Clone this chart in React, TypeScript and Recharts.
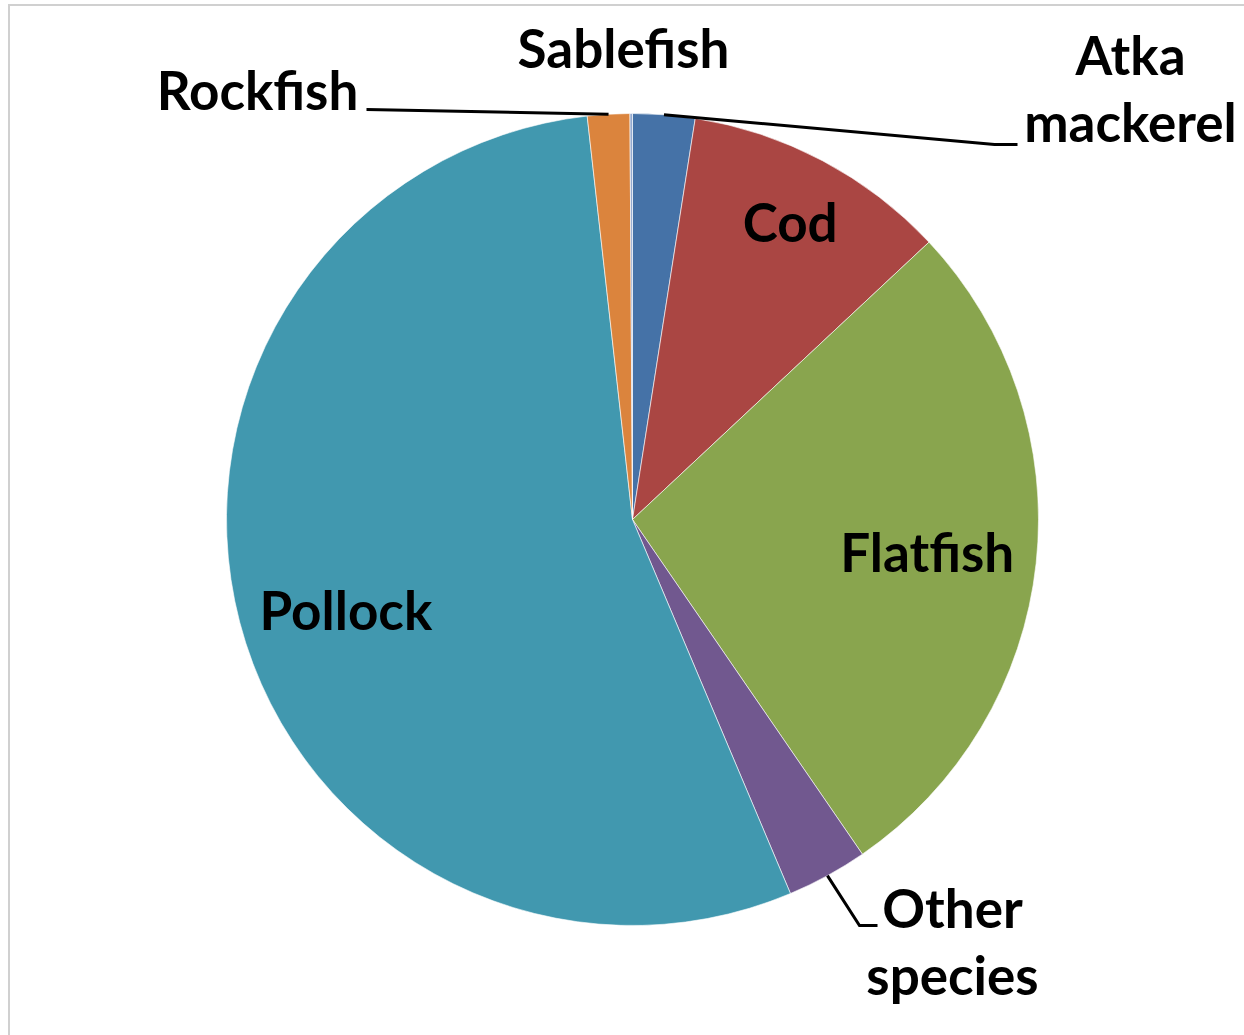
import { Cell, Pie, PieChart } from "recharts";

// Groundfish catch share by species (percent of total)
const species = [
  "Atka mackerel",
  "Cod",
  "Flatfish",
  "Other species",
  "Pollock",
  "Rockfish",
  "Sablefish",
];
const shares = [2.47, 10.56, 27.39, 3.22, 54.58, 1.68, 0.1];
const colors = [
  "#4572A7",
  "#AA4643",
  "#89A54E",
  "#71588F",
  "#4198AF",
  "#DB843D",
  "#93A9CF",
];

const data = species.map((name, i) => ({ name, value: shares[i] }));

const RAD = Math.PI / 180;
const FONT = "Lato, 'Open Sans', sans-serif";
const FONT_SIZE = 53;

// label placement, relative to the pie centre
type Place =
  | { inside: true; r: number; turn?: number }
  | {
      inside: false;
      lines: string[];
      x: number;
      y: number;
      lead?: [number, number][];
    };

const placement: Record<string, Place> = {
  Cod: { inside: true, r: 0.83 },
  Flatfish: { inside: true, r: 0.73 },
  Pollock: { inside: true, r: 0.74, turn: 2.8 },
  Rockfish: {
    inside: false,
    lines: ["Rockfish"],
    x: -375,
    y: -410,
    lead: [[-266, -410]],
  },
  Sablefish: { inside: false, lines: ["Sablefish"], x: -9, y: -452 },
  "Atka mackerel": {
    inside: false,
    lines: ["Atka", "mackerel"],
    x: 498,
    y: -445,
    lead: [
      [362, -375],
      [385, -375],
    ],
  },
  "Other species": {
    inside: false,
    lines: ["Other", "species"],
    x: 320,
    y: 408,
    lead: [
      [227, 406],
      [245, 406],
    ],
  },
};

const renderLabel = (props: any) => {
  const { cx, cy, midAngle, outerRadius, name } = props;
  const p = placement[name];
  if (!p) return null;
  if (p.inside) {
    const a = (midAngle + (p.turn ?? 0)) * RAD;
    const r = outerRadius * p.r;
    return (
      <text
        x={cx + r * Math.cos(-a)}
        y={cy + r * Math.sin(-a)}
        textAnchor="middle"
        dominantBaseline="central"
        fontFamily={FONT}
        fontWeight="bold"
        fontSize={FONT_SIZE}
        fill="#000"
      >
        {name}
      </text>
    );
  }
  const sx = cx + outerRadius * Math.cos(-midAngle * RAD);
  const sy = cy + outerRadius * Math.sin(-midAngle * RAD);
  const pts = p.lead
    ? [[sx, sy], ...p.lead.map(([dx, dy]) => [cx + dx, cy + dy])]
    : null;
  return (
    <g>
      {pts && (
        <polyline
          points={pts.map((q) => q.join(",")).join(" ")}
          fill="none"
          stroke="#000"
          strokeWidth={3}
        />
      )}
      <text
        x={cx + p.x}
        y={cy + p.y}
        textAnchor="middle"
        fontFamily={FONT}
        fontWeight="bold"
        fontSize={FONT_SIZE}
        fill="#000"
      >
        {p.lines.map((line, i) => (
          <tspan key={line} x={cx + p.x} dy={i === 0 ? 0 : 67}>
            {line}
          </tspan>
        ))}
      </text>
    </g>
  );
};

export default function App() {
  return (
    <div
      style={{
        position: "absolute",
        left: 0,
        top: 0,
        width: 1244,
        height: 1035,
        background: "#fff",
        overflow: "hidden",
      }}
    >
      <div
        style={{
          position: "absolute",
          left: 8,
          top: 4,
          width: 1260,
          height: 1060,
          borderTop: "2px solid #d0d0d0",
          borderLeft: "2px solid #d0d0d0",
        }}
      />
      <PieChart
        width={1244}
        height={1035}
        margin={{ top: 0, right: 0, bottom: 0, left: 0 }}
        style={{ position: "absolute", left: 0, top: 0 }}
      >
        <Pie
          data={data}
          dataKey="value"
          nameKey="name"
          cx={632.5}
          cy={519.5}
          outerRadius={406}
          startAngle={90}
          endAngle={-270}
          stroke="#ffffff"
          strokeWidth={0.6}
          label={renderLabel}
          labelLine={false}
          isAnimationActive={false}
        >
          {data.map((d, i) => (
            <Cell key={d.name} fill={colors[i]} />
          ))}
        </Pie>
      </PieChart>
    </div>
  );
}
